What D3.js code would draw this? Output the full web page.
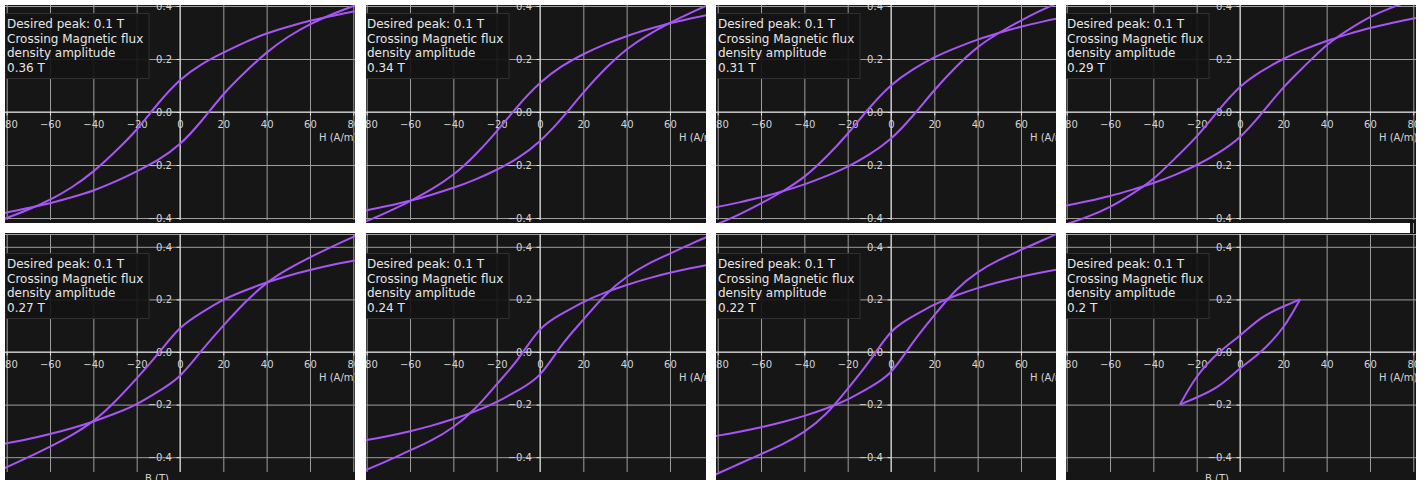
<!DOCTYPE html>
<html>
<head>
<meta charset="utf-8">
<script src="https://cdn.jsdelivr.net/npm/d3@7"></script>
<style>
  body { margin: 0; background: #fff; }
  svg { display: block; font-family: "DejaVu Sans", sans-serif; }
</style>
</head>
<body>
<svg id="chart" width="1426" height="480"></svg>
<script>
// crossing amplitudes shown in each panel's legend
const amplitudes = [0.36, 0.34, 0.31, 0.29, 0.27, 0.24, 0.22, 0.2];

// H values (A/m) where the branches were read
const hGrid  = [-90, -80, -70, -60, -50, -40, -30, -20, -10, 0, 10, 20, 30, 40, 50, 60, 70, 80, 90];
const hSmall = [-27.7, -20, -10, 0, 10, 20, 27.7];

// descending (upper) and ascending (lower) branches, B in T
const upper036 = [-0.430, -0.400, -0.368, -0.331, -0.284, -0.224, -0.150, -0.066, 0.033, 0.120, 0.180, 0.224, 0.263, 0.296, 0.322, 0.344, 0.362, 0.379, 0.394];
const lower036 = [-0.394, -0.379, -0.362, -0.344, -0.322, -0.296, -0.263, -0.224, -0.180, -0.120, -0.033, 0.066, 0.150, 0.224, 0.284, 0.331, 0.368, 0.400, 0.430];
const upper034 = [-0.446, -0.412, -0.376, -0.336, -0.291, -0.236, -0.162, -0.073, 0.024, 0.109, 0.172, 0.218, 0.255, 0.286, 0.312, 0.335, 0.354, 0.371, 0.386];
const lower034 = [-0.386, -0.371, -0.354, -0.335, -0.312, -0.286, -0.255, -0.218, -0.172, -0.109, -0.024, 0.073, 0.162, 0.236, 0.291, 0.336, 0.376, 0.412, 0.446];
const upper031 = [-0.455, -0.422, -0.386, -0.345, -0.299, -0.244, -0.170, -0.082, 0.015, 0.100, 0.160, 0.206, 0.242, 0.273, 0.299, 0.322, 0.341, 0.358, 0.373];
const lower031 = [-0.373, -0.358, -0.341, -0.322, -0.299, -0.273, -0.242, -0.206, -0.160, -0.100, -0.015, 0.082, 0.170, 0.244, 0.299, 0.345, 0.386, 0.422, 0.455];
const upper029 = [-0.449, -0.423, -0.394, -0.358, -0.310, -0.252, -0.175, -0.092, 0.005, 0.094, 0.154, 0.200, 0.237, 0.268, 0.294, 0.317, 0.336, 0.353, 0.368];
const lower029 = [-0.368, -0.353, -0.336, -0.317, -0.294, -0.268, -0.237, -0.200, -0.154, -0.094, -0.005, 0.092, 0.175, 0.252, 0.310, 0.358, 0.394, 0.423, 0.449];
const upper027 = [-0.474, -0.438, -0.400, -0.360, -0.316, -0.262, -0.188, -0.100, -0.005, 0.090, 0.150, 0.198, 0.234, 0.264, 0.290, 0.312, 0.331, 0.347, 0.362];
const lower027 = [-0.362, -0.347, -0.331, -0.312, -0.290, -0.264, -0.234, -0.198, -0.150, -0.090, 0.005, 0.100, 0.188, 0.262, 0.316, 0.360, 0.400, 0.438, 0.474];
const upper024 = [-0.480, -0.447, -0.412, -0.374, -0.335, -0.285, -0.215, -0.123, -0.025, 0.085, 0.145, 0.190, 0.226, 0.255, 0.280, 0.301, 0.319, 0.335, 0.350];
const lower024 = [-0.350, -0.335, -0.319, -0.301, -0.280, -0.255, -0.226, -0.190, -0.145, -0.085, 0.025, 0.123, 0.215, 0.285, 0.335, 0.374, 0.412, 0.447, 0.480];
const upper022 = [-0.500, -0.462, -0.425, -0.388, -0.350, -0.303, -0.235, -0.140, -0.035, 0.075, 0.135, 0.180, 0.215, 0.243, 0.266, 0.286, 0.303, 0.318, 0.332];
const lower022 = [-0.332, -0.318, -0.303, -0.286, -0.266, -0.243, -0.215, -0.180, -0.135, -0.075, 0.035, 0.140, 0.235, 0.303, 0.350, 0.388, 0.425, 0.462, 0.500];
const upper020 = [-0.200, -0.095, -0.004, 0.063, 0.130, 0.173, 0.200];
const lower020 = [-0.200, -0.173, -0.130, -0.063, 0.004, 0.095, 0.200];

const xTicks = [-80, -60, -40, -20, 0, 20, 40, 60, 80];
const yTicks = [-0.4, -0.2, 0, 0.2, 0.4];

const uppers = [upper036, upper034, upper031, upper029, upper027, upper024, upper022, upper020];
const lowers = [lower036, lower034, lower031, lower029, lower027, lower024, lower022, lower020];
const grids  = [hGrid, hGrid, hGrid, hGrid, hGrid, hGrid, hGrid, hSmall];

// layout
const colLeft = [5, 366, 716, 1066], colRight = [355, 706, 1056, 1416], colZero = [180, 540, 891, 1240];
const rowTop = [5, 233], rowBottom = [223, 480], rowZero = [112, 352], rowScale = [265, 263];
const plotTop = [5, 234], plotBottom = [220, 472];

const BG = "#161616", GRID = "#9e9e9e", SPINE = "#e0e0e0", TXT = "#d4d4d4", PURPLE = "#a855f7";

const svg = d3.select("#chart");
svg.append("rect").attr("width", 1426).attr("height", 480).attr("fill", "#fff");
const defs = svg.append("defs");

// the last column's dark edge shows through the gap between rows
svg.append("rect").attr("x", 1410).attr("y", rowBottom[0]).attr("width", 6)
  .attr("height", rowTop[1] - rowBottom[0]).attr("fill", BG);
svg.append("line").attr("x1", 1413.5).attr("x2", 1413.5)
  .attr("y1", rowBottom[0]).attr("y2", rowTop[1]).attr("stroke", GRID);

amplitudes.forEach((amp, i) => {
  const r = Math.floor(i / 4), c = i % 4;
  const x = d3.scaleLinear().domain([-80, 80]).range([colZero[c] - 173.3, colZero[c] + 173.3]);
  const y = d3.scaleLinear().domain([-0.4, 0.4])
    .range([rowZero[r] + 0.4 * rowScale[r], rowZero[r] - 0.4 * rowScale[r]]);

  defs.append("clipPath").attr("id", "clip" + i).append("rect")
    .attr("x", colLeft[c]).attr("y", rowTop[r])
    .attr("width", colRight[c] - colLeft[c]).attr("height", rowBottom[r] - rowTop[r]);

  const g = svg.append("g").attr("clip-path", `url(#clip${i})`);
  g.append("rect").attr("x", colLeft[c]).attr("y", rowTop[r])
    .attr("width", colRight[c] - colLeft[c]).attr("height", rowBottom[r] - rowTop[r])
    .attr("fill", BG);

  // grid
  g.append("g").attr("transform", `translate(0,${plotTop[r]})`)
    .call(d3.axisBottom(x).tickValues(xTicks).tickSize(plotBottom[r] - plotTop[r]).tickFormat(""))
    .call(s => s.select(".domain").remove())
    .selectAll("line").attr("stroke", GRID);
  g.append("g").attr("transform", `translate(${colLeft[c]},0)`)
    .call(d3.axisLeft(y).tickValues(yTicks).tickSize(-(colRight[c] - colLeft[c])).tickFormat(""))
    .call(s => s.select(".domain").remove())
    .selectAll("line").attr("stroke", GRID);
  if (r === 1) {
    g.append("line").attr("x1", colLeft[c]).attr("x2", colRight[c])
      .attr("y1", plotTop[r] + 0.5).attr("y2", plotTop[r] + 0.5).attr("stroke", GRID);
  }

  // spines through the origin
  g.append("line").attr("x1", colLeft[c]).attr("x2", colRight[c])
    .attr("y1", y(0)).attr("y2", y(0)).attr("stroke", SPINE);
  g.append("line").attr("x1", x(0)).attr("x2", x(0))
    .attr("y1", plotTop[r]).attr("y2", plotBottom[r]).attr("stroke", SPINE);

  // ticks and labels
  const xa = g.append("g").attr("transform", `translate(0,${y(0)})`)
    .call(d3.axisBottom(x).tickValues(xTicks).tickSize(3.5).tickPadding(5).tickFormat(d3.format("d")));
  const ya = g.append("g").attr("transform", `translate(${x(0)},0)`)
    .call(d3.axisLeft(y).tickValues(yTicks).tickSize(3.5).tickPadding(4.5).tickFormat(d3.format(".1f")));
  [xa, ya].forEach(a => {
    a.select(".domain").remove();
    a.selectAll("line").attr("stroke", SPINE);
    a.selectAll("text").attr("fill", TXT).attr("font-size", 10).attr("font-family", "DejaVu Sans");
  });

  g.append("text").attr("x", x(0) + 139).attr("y", y(0) + 29.3)
    .attr("fill", TXT).attr("font-size", 10).text("H (A/m)");
  if (r === 1 && (c === 0 || c === 3)) {
    g.append("text").attr("x", x(0) - 23).attr("y", y(0) + 130)
      .attr("text-anchor", "middle").attr("fill", TXT).attr("font-size", 10).text("B (T)");
  }

  // hysteresis branches
  const line = d3.line().x(d => x(d[0])).y(d => y(d[1])).curve(d3.curveNatural);
  [uppers[i], lowers[i]].forEach(branch => {
    g.append("path").datum(grids[i].map((h, k) => [h, branch[k]]))
      .attr("d", line).attr("fill", "none").attr("stroke", PURPLE)
      .attr("stroke-width", 2).attr("stroke-linejoin", "round");
  });

  // legend box
  const top = y(0) - 98.5;
  g.append("rect").attr("x", x(0) - 175).attr("y", top).attr("width", 144).attr("height", 65)
    .attr("fill", "#141414").attr("fill-opacity", 0.92).attr("stroke", "#303030");
  const lines = ["Desired peak: 0.1 T", "Crossing Magnetic flux", "density amplitude", amp + " T"];
  g.selectAll(".leg").data(lines).enter().append("text")
    .attr("x", x(0) - 173).attr("y", (d, k) => top + 14.9 + k * 14.5)
    .attr("fill", "#e6e6e6").attr("font-size", 12).text(d => d);
});
</script>
</body>
</html>
